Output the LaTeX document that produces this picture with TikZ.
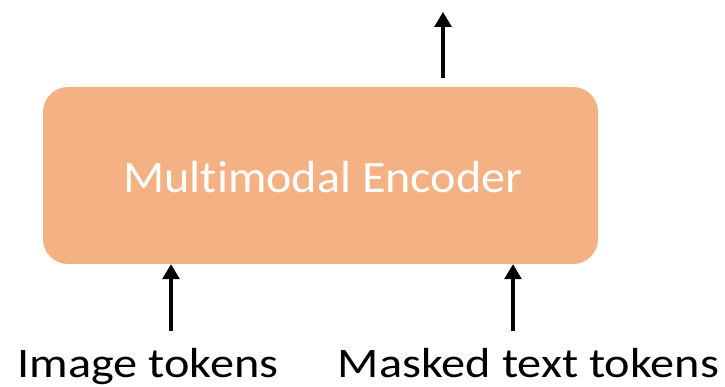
\documentclass[tikz,border=0pt]{standalone}
\usepackage{fontspec}
\setmainfont{Carlito}[Ligatures=NoCommon]
\usetikzlibrary{arrows.meta}
\definecolor{encfill}{RGB}{244,177,131}
\newcommand{\widetext}[2]{\scalebox{#1}[1]{#2}}
\tikzset{
  encbox/.style={fill=encfill, draw=none, rounded corners=25pt,
    minimum width=555pt, minimum height=177pt, inner sep=0pt},
  enclabel/.style={text=white, font=\fontsize{45}{54}\selectfont, inner sep=0pt, anchor=base},
  tokenlabel/.style={font=\fontsize{42}{50}\selectfont, inner sep=0pt, anchor=base},
  flow/.style={line width=3.2pt, -{Triangle[width=17pt,length=15pt]}}
}
\begin{document}
\begin{tikzpicture}[x=1pt, y=-1pt]
  \useasboundingbox (0,0) rectangle (725,387);
  % encoder block
  \node[encbox] (enc) at (320.5,175.5) {};
  \node[enclabel] (enctext) at (323,193) {\widetext{1.07}{Multimodal Encoder}};
  % input labels
  \node[tokenlabel] (img) at (148,377) {\widetext{1.15}{Image tokens}};
  \node[tokenlabel] (txt) at (528.5,377) {\widetext{1.15}{Masked text tokens}};
  % arrow ends
  \coordinate (imgtail) at (171,331);
  \coordinate (txttail) at (513,331);
  \coordinate (outtail) at (443,78);
  \coordinate (outhead) at (443,12);
  % connectors
  \draw[flow] (imgtail) -- (imgtail |- enc.south);
  \draw[flow] (txttail) -- (txttail |- enc.south);
  \draw[flow] (outtail) -- (outhead);
\end{tikzpicture}
\end{document}
